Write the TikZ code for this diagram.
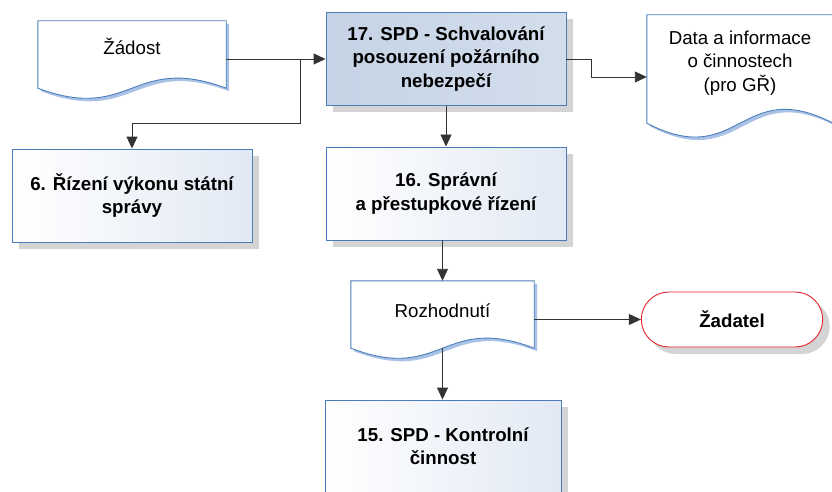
\documentclass[tikz,border=0pt]{standalone}
\usepackage{fontspec}
\setmainfont{Liberation Sans}
\usetikzlibrary{arrows.meta,calc,shadows,shapes.misc}

\definecolor{lineblue}{HTML}{4A7EBB}
\definecolor{paleblue}{HTML}{E2E9F4}
\definecolor{steel}{HTML}{C5D3E6}
\definecolor{steellight}{HTML}{D3DEEC}
\definecolor{glowblue}{HTML}{A9C2E5}
\definecolor{shadowgray}{HTML}{D4D4D4}
\definecolor{termred}{HTML}{E2262B}

% outline of a document shape round node #1 (#2 wave, #3 offset)
\newcommand{\docoutline}[3]{%
  let \p1=(#1.north west), \p2=(#1.south east),
      \p3=($(#1.south west)!.5!(#1.south east)$) in
  (\x1+#3,\y1-#3) -- (\x2+#3,\y1-#3) -- (\x2+#3,\y2-#3)
  .. controls (\x3+#3,\y2-#3+#2) and (\x3+#3,\y2-#3-#2) .. (\x1+#3,\y2-#3) -- cycle}

\begin{document}
\begin{tikzpicture}[x=1pt, y=-1pt,
    every node/.style={font=\fontsize{18.7}{23.5}\selectfont},
    procbox/.style={rectangle, draw=lineblue, line width=0.9pt,
        left color=white, right color=paleblue, align=center,
        minimum width=240pt, minimum height=93pt,
        font=\fontsize{18.7}{23.5}\selectfont\bfseries,
        drop shadow={shadow xshift=7pt, shadow yshift=-7pt, fill=shadowgray, opacity=1}},
    docu/.style={rectangle, inner sep=0pt},
    doctext/.style={align=center, inner sep=0pt},
    docline/.style={draw=lineblue, fill=white, line width=0.9pt},
    terminal/.style={rounded rectangle, draw=termred, fill=white, line width=0.9pt,
        minimum width=188pt, minimum height=55pt,
        font=\fontsize{18.7}{23.5}\selectfont\bfseries,
        drop shadow={shadow xshift=7pt, shadow yshift=-7pt, fill=shadowgray, opacity=1}},
    link/.style={draw=black!80, line width=0.9pt, -{Triangle[length=12pt,width=11pt]}}]

\useasboundingbox (0,0) rectangle (832,492);
\clip (0,0) rectangle (832,492);

% processes
\node[procbox, left color=steel, right color=steellight] (b17) at (446,59)
    {17. SPD - Schvalování\\posouzení požárního\\nebezpečí};
\node[procbox] (b6) at (132,195.5) {6. Řízení výkonu státní\\správy};
\node[procbox] (b16) at (446,193.5) {16. Správní\\a přestupkové řízení};
\node[procbox, minimum width=236pt, minimum height=92pt] (b15) at (443,446)
    {15. SPD - Kontrolní\\činnost};
\node[terminal] (zadatel) at (732,319.5) {Žadatel};

% documents
\node[docu, minimum width=188pt, minimum height=67pt] (zadost) at (132,54.5) {};
\node[docu, minimum width=186pt, minimum height=108pt] (data) at (740,69) {};
\node[docu, minimum width=183pt, minimum height=67pt] (rozh) at (442.5,314.5) {};

\fill[glowblue] \docoutline{zadost}{35pt}{3pt};
\path[docline] \docoutline{zadost}{35pt}{0pt};
\fill[glowblue] \docoutline{data}{48pt}{3pt};
\path[docline] \docoutline{data}{48pt}{0pt};
\fill[glowblue] \docoutline{rozh}{35pt}{3pt};
\path[docline] \docoutline{rozh}{35pt}{0pt};

\node[doctext, anchor=base] (zadost-txt) at (132,55) {Žádost};
\node[doctext] (data-txt) at (740,63) {Data a informace\\o činnostech\\(pro GŘ)};
\node[doctext, anchor=base] (rozh-txt) at (442.5,317) {Rozhodnutí};

% connectors
\coordinate (split) at (300,59);
\draw[link] (zadost.east |- b17.west) -- (b17.west);
\draw[link] (split) |- ($(b6.north)+(0,-25)$) -- (b6.north);
\draw[link] (b17.south) -- (b16.north);
\draw[link] (b17.east) -- ++(25,0) |- ($(data.west)+(0,8)$);
\draw[link] (rozh.north |- b16.south) -- (rozh.north);
\draw[link] (rozh.east |- zadatel.west) -- (zadatel.west);
\draw[link] (rozh.south) -- (rozh.south |- b15.north);

\end{tikzpicture}
\end{document}
